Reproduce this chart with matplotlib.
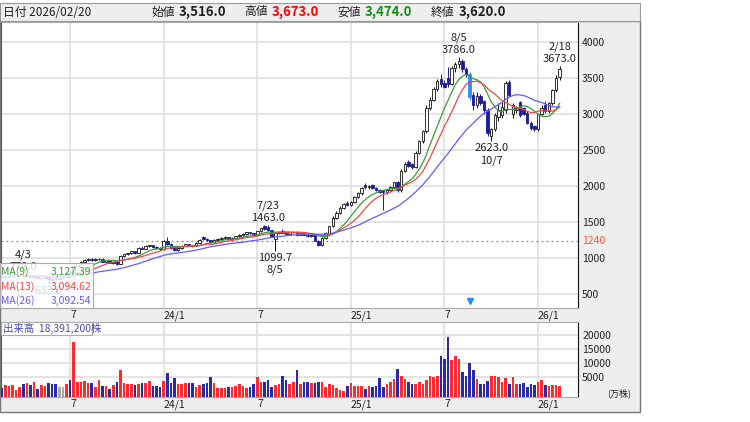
import matplotlib
matplotlib.use("Agg")
import matplotlib.pyplot as plt
from matplotlib.patches import Rectangle
import pandas as pd

plt.rcParams["font.family"] = ["Noto Sans CJK JP", "DejaVu Sans"]

# weekly candles, weeks starting 2023-02-20 .. 2026-02-16 (last trading day 2026-02-20)
dates = pd.date_range("2023-02-20", periods=156, freq="W-MON")
last_day = "2026/02/20"

opens = [745, 730, 742, 752, 758, 763, 768, 748, 758, 732, 744, 718, 728, 736, 705, 710, 712, 730, 735, 800,
         795, 890, 925, 950, 975, 990, 970, 985, 990, 950, 965, 935, 945, 915, 1030, 1050, 1065, 1090, 1070, 1140,
         1130, 1165, 1175, 1150, 1140, 1120, 1240, 1200, 1145, 1110, 1140, 1170, 1190, 1175, 1165, 1205, 1290, 1265, 1245, 1215,
         1250, 1265, 1280, 1290, 1265, 1280, 1300, 1320, 1335, 1355, 1340, 1325, 1370, 1440, 1430, 1385, 1270, 1345, 1370, 1350,
         1330, 1355, 1365, 1325, 1350, 1325, 1300, 1320, 1240, 1180, 1280, 1350, 1440, 1560, 1630, 1700, 1760, 1735, 1780, 1850,
         1900, 2010, 1980, 2010, 1975, 1950, 1940, 1910, 1950, 1985, 2050, 1940, 2210, 2340, 2300, 2260, 2460, 2620, 2760, 3090,
         3200, 3350, 3480, 3430, 3500, 3420, 3640, 3700, 3730, 3620, 3560, 3260, 3120, 3250, 3180, 3060, 2700, 2790, 2960, 2980,
         3050, 3440, 3000, 3050, 3160, 3080, 3020, 2880, 2830, 2790, 3000, 3120, 3040, 3150, 3330, 3516]
highs = [752, 748, 760, 765, 770, 775, 778, 765, 762, 750, 748, 735, 742, 740, 712, 715, 725, 745, 805, 815,
         905, 935, 960, 985, 1000, 1005, 995, 1000, 995, 975, 970, 950, 950, 1045, 1060, 1075, 1100, 1100, 1150, 1160,
         1175, 1185, 1180, 1160, 1150, 1250, 1290, 1210, 1150, 1150, 1180, 1200, 1200, 1185, 1215, 1260, 1300, 1275, 1250, 1260,
         1275, 1290, 1300, 1295, 1290, 1310, 1330, 1345, 1365, 1365, 1350, 1380, 1420, 1455, 1463, 1395, 1355, 1375, 1400, 1360,
         1365, 1375, 1380, 1360, 1360, 1335, 1335, 1325, 1250, 1290, 1360, 1450, 1580, 1650, 1720, 1770, 1790, 1790, 1860, 1910,
         1990, 2040, 2020, 2030, 1990, 1960, 1950, 1960, 1995, 2060, 2070, 2230, 2330, 2360, 2320, 2480, 2640, 2780, 3120, 3230,
         3370, 3480, 3560, 3470, 3650, 3660, 3720, 3786, 3760, 3650, 3580, 3300, 3300, 3280, 3200, 3080, 2810, 3020, 3150, 3170,
         3460, 3470, 3150, 3110, 3180, 3100, 3040, 2900, 2850, 3020, 3120, 3180, 3170, 3350, 3540, 3673]
lows = [722, 725, 738, 745, 750, 756, 740, 742, 725, 728, 712, 710, 720, 633, 690, 695, 705, 722, 730, 780,
        790, 880, 915, 940, 960, 960, 955, 965, 940, 935, 925, 915, 900, 910, 1020, 1035, 1055, 1060, 1065, 1120,
        1120, 1150, 1140, 1130, 1110, 1115, 1180, 1130, 1095, 1100, 1130, 1160, 1160, 1150, 1160, 1195, 1255, 1235, 1200, 1205,
        1240, 1255, 1265, 1255, 1255, 1270, 1290, 1310, 1325, 1330, 1315, 1320, 1360, 1390, 1370, 1290, 1099.7, 1330, 1340, 1320,
        1320, 1340, 1310, 1315, 1315, 1285, 1290, 1230, 1160, 1170, 1270, 1340, 1430, 1540, 1610, 1680, 1720, 1720, 1770, 1840,
        1880, 1960, 1960, 1960, 1930, 1900, 1667, 1890, 1935, 1975, 1920, 1920, 2190, 2260, 2240, 2250, 2440, 2600, 2740, 3060,
        3180, 3320, 3380, 3360, 3380, 3400, 3590, 3640, 3590, 3520, 3200, 3050, 3080, 3120, 3000, 2700, 2623, 2770, 2900, 2950,
        3020, 3230, 2940, 3010, 2960, 2980, 2860, 2780, 2770, 2770, 2980, 3010, 3020, 3130, 3310, 3474]
closes = [730, 742, 752, 758, 763, 768, 748, 758, 732, 744, 718, 728, 736, 705, 698, 702, 712, 730, 795, 788,
          890, 925, 950, 975, 990, 970, 985, 990, 950, 965, 935, 945, 915, 1030, 1050, 1065, 1090, 1070, 1140, 1130,
          1165, 1175, 1150, 1140, 1120, 1240, 1200, 1145, 1110, 1140, 1170, 1190, 1175, 1165, 1205, 1250, 1265, 1245, 1215, 1250,
          1265, 1280, 1290, 1265, 1280, 1300, 1320, 1335, 1355, 1340, 1325, 1370, 1410, 1400, 1385, 1300, 1345, 1365, 1350, 1330,
          1355, 1365, 1325, 1350, 1325, 1300, 1320, 1240, 1180, 1280, 1350, 1440, 1560, 1630, 1700, 1750, 1735, 1780, 1850, 1900,
          1970, 1980, 2000, 1975, 1950, 1920, 1910, 1950, 1985, 2050, 1940, 2210, 2310, 2280, 2260, 2460, 2620, 2760, 3090, 3200,
          3350, 3460, 3420, 3380, 3420, 3640, 3700, 3740, 3620, 3560, 3230, 3120, 3250, 3150, 3060, 2740, 2790, 2990, 3060, 3100,
          3430, 3260, 3130, 3080, 2990, 3000, 2880, 2800, 2790, 3000, 3080, 3040, 3150, 3330, 3500, 3620]
# volume in 万株
volumes = [1190, 2380, 2020, 2380, 600, 1670, 2860, 3210, 2380, 3450, 830, 2380, 2020, 3210, 2620, 2860, 1670, 1670, 2860, 4170,
           17500, 3450, 3570, 3810, 3210, 2980, 1670, 4050, 2020, 2020, 830, 2380, 3450, 7620, 3210, 2860, 2860, 2380, 2620, 3210,
           3210, 3810, 2020, 2020, 1670, 3810, 6430, 3210, 4640, 2620, 2620, 2980, 2980, 2980, 1670, 2380, 2860, 3210, 5000, 3210,
           1190, 1190, 1430, 1670, 1670, 2020, 2860, 2020, 1430, 1670, 2860, 5000, 3450, 3450, 4170, 1670, 2380, 2860, 5360, 4170,
           2860, 3450, 7620, 2860, 3450, 3450, 3210, 3210, 3450, 3450, 1670, 2860, 2380, 1190, 600, 150, 2020, 3210, 2020, 2020,
           2020, 830, 2020, 1670, 2020, 4640, 1670, 2620, 3450, 4400, 7980, 5360, 4400, 3450, 2860, 2860, 3450, 2860, 4170, 5360,
           5240, 5360, 12740, 11550, 19290, 11190, 12740, 11550, 6790, 5360, 10120, 7620, 4400, 2620, 2620, 3810, 5360, 5600, 5000, 3450,
           4640, 2860, 5000, 2860, 2860, 3210, 1670, 2860, 2380, 3450, 4170, 2380, 2020, 2380, 2380, 1839.12]

ma_periods = [9, 13, 26]
ma_colors = ["#3c9c3c", "#f04848", "#5e5eff"]
ma_values = ["3,127.39", "3,094.62", "3,092.54"]
peak_marks = [(6, "4/3"), (74, "7/23"), (127, "8/5"), (155, "2/18")]
trough_marks = [(13, ""), (76, "8/5"), (136, "10/7")]
ref_price = 1240
highlight = 130
price_ticks = [500, 1000, 1500, 2000, 2500, 3000, 3500, 4000]
vol_ticks = [5000, 10000, 15000, 20000]

W, H = 750, 422
fig = plt.figure(figsize=(W / 100, H / 100), dpi=100)


def fx(x):
    return x / W


def fy(y):
    return 1 - y / H


def frect(x0, y0, x1, y1):
    return [fx(x0), fy(y1), (x1 - x0) / W, (y1 - y0) / H]


# gray frame behind everything
fig.add_artist(Rectangle((fx(0), fy(412)), 640 / W, 391 / H, transform=fig.transFigure,
                         facecolor="#eeeeee", edgecolor="#777777", lw=1, zorder=0))
fig.add_artist(Rectangle((fx(0), fy(21)), 640 / W, 18 / H, transform=fig.transFigure,
                         facecolor="#eeeeee", edgecolor="#999999", lw=0.8, zorder=0))

# header
last = len(closes) - 1
fig.text(fx(3), fy(12), "日付 " + last_day, fontsize=8.5, va="center", color="#222222")
head = [("始値", opens[last], "#222222", 151), ("高値", highs[last], "#ff0000", 244),
        ("安値", lows[last], "#1a8a1a", 337), ("終値", closes[last], "#222222", 431)]
for name, v, col, xp in head:
    fig.text(fx(xp), fy(12), name, fontsize=8.5, va="center", color="#222222")
    fig.text(fx(xp + 28), fy(12), f"{v:,.1f}", fontsize=9.5, va="center", color=col, fontweight="bold")

ax = fig.add_axes(frect(1, 22, 578, 308))
axv = fig.add_axes(frect(1, 322, 578, 397), sharex=ax)

x = list(range(len(closes)))
up = [c >= o for o, c in zip(opens, closes)]
flat = [c == o for o, c in zip(opens, closes)]
body_col = []
wick_col = []
for i in x:
    if i == highlight:
        body_col.append("#2a8cff")
        wick_col.append("#2a8cff")
    elif up[i]:
        body_col.append("white")
        wick_col.append("#111111")
    else:
        body_col.append("#1a1a9c")
        wick_col.append("#1a1a9c")
edge_col = ["#111111" if (up[i] and i != highlight) else body_col[i] for i in x]

ax.vlines(x, lows, highs, colors=wick_col, lw=0.7, zorder=3)
ax.bar(x, [max(abs(c - o), 3) for o, c in zip(opens, closes)],
       bottom=[min(o, c) for o, c in zip(opens, closes)],
       width=0.68, color=body_col, edgecolor=edge_col, lw=0.6, zorder=4)

s = pd.Series(closes)
for p, col in zip(ma_periods, ma_colors):
    ax.plot(x, s.rolling(p, min_periods=1).mean(), color=col, lw=0.9, zorder=5)

ax.axhline(ref_price, color="#888888", lw=0.9, ls=(0, (1.5, 2.5)), zorder=2)
ax.text(1.007, ref_price, str(ref_price), transform=ax.get_yaxis_transform(),
        color="#ff5a2a", fontsize=7.5, va="center", ha="left")

for i, d in peak_marks:
    ax.annotate(f"{highs[i]:.1f}", (i, highs[i]), xytext=(0, 2), textcoords="offset pixels",
                ha="center", va="bottom", fontsize=8, color="#222222", zorder=6, annotation_clip=False)
    ax.annotate(d, (i, highs[i]), xytext=(0, 14), textcoords="offset pixels",
                ha="center", va="bottom", fontsize=8, color="#222222", zorder=6, annotation_clip=False)
for i, d in trough_marks:
    ax.annotate(f"{lows[i]:.1f}", (i, lows[i]), xytext=(0, -2), textcoords="offset pixels",
                ha="center", va="top", fontsize=8, color="#222222", zorder=6)
    ax.annotate(d, (i, lows[i]), xytext=(0, -14), textcoords="offset pixels",
                ha="center", va="top", fontsize=8, color="#222222", zorder=6)

ax.plot([highlight], [0.025], marker="v", ms=4.5, color="#2a8cff",
        transform=ax.get_xaxis_transform(), zorder=6)

# month grid / labels: a week belongs to the month of its Friday
week_end = dates + pd.Timedelta(days=4)
grid_pos = [i for i in range(1, len(week_end))
            if week_end[i].month in (1, 7) and week_end[i].month != week_end[i - 1].month]
grid_lab = [f"{week_end[i].year % 100}/1" if week_end[i].month == 1 else str(week_end[i].month) for i in grid_pos]

for a in (ax, axv):
    a.set_facecolor("white")
    a.set_xticks(grid_pos)
    a.grid(True, color="#dddddd", lw=1.1, zorder=0)
    a.set_axisbelow(True)
    a.yaxis.tick_right()
    a.tick_params(axis="y", length=0, pad=3, labelsize=7.5, labelcolor="#222222")
    a.tick_params(axis="x", length=0, pad=1.5, labelsize=7.5, labelcolor="#222222")
    a.spines["right"].set_linestyle((0, (2, 1)))
    a.spines["right"].set_color("#111111")
    a.spines["left"].set_color("#555555")
    a.spines["top"].set_color("#aaaaaa")
    a.spines["bottom"].set_color("#aaaaaa")

ax.set_xlim(-0.2, 160.1)
ax.set_ylim(305, 4278)
ax.set_yticks(price_ticks)
ax.set_xticklabels(grid_lab)
plt.setp(ax.get_xticklabels(), ha="left")

vcol = ["#a8a8a8" if flat[i] else ("#ff2a2a" if up[i] else "#2a2aa8") for i in x]
vbase = -1900
axv.bar(x, [v - vbase for v in volumes], bottom=vbase, width=0.72, color=vcol, zorder=3)
axv.set_ylim(vbase, 24600)
axv.set_yticks(vol_ticks)
axv.tick_params(axis="x", labelbottom=True)
axv.set_xticklabels(grid_lab)
plt.setp(axv.get_xticklabels(), ha="left")
fig.text(fx(607), fy(393), "(万株)", fontsize=6.5, va="center", color="#222222")

# MA legend box
ax.add_patch(Rectangle((fx(0), fy(308)), 93 / W, 45 / H, transform=fig.transFigure, clip_on=False,
                       facecolor="white", alpha=0.82, edgecolor="none", zorder=10))
ax.add_patch(Rectangle((fx(0), fy(308)), 93 / W, 45 / H, transform=fig.transFigure, clip_on=False,
                       facecolor="none", edgecolor="#aaaaaa", lw=0.8, zorder=10))
for k, (p, col, val) in enumerate(zip(ma_periods, ma_colors, ma_values)):
    yy = 272 + k * 14.5
    ax.text(fx(1), fy(yy), f"MA({p})", transform=fig.transFigure, color=col, fontsize=7.5,
            va="center", ha="left", zorder=11)
    ax.text(fx(91), fy(yy), val, transform=fig.transFigure, color=col, fontsize=7.5,
            va="center", ha="right", zorder=11)

# volume info box
axv.add_patch(Rectangle((fx(1), fy(335)), 91 / W, 13 / H, transform=fig.transFigure, clip_on=False,
                        facecolor="white", edgecolor="#aaaaaa", lw=0.8, zorder=10))
axv.text(fx(3), fy(328.5), f"出来高  {volumes[last] * 10000:,.0f}株", transform=fig.transFigure,
         color="#4a4ab8", fontsize=7.5, va="center", ha="left", zorder=11)

fig.savefig("out.png", dpi=100)
